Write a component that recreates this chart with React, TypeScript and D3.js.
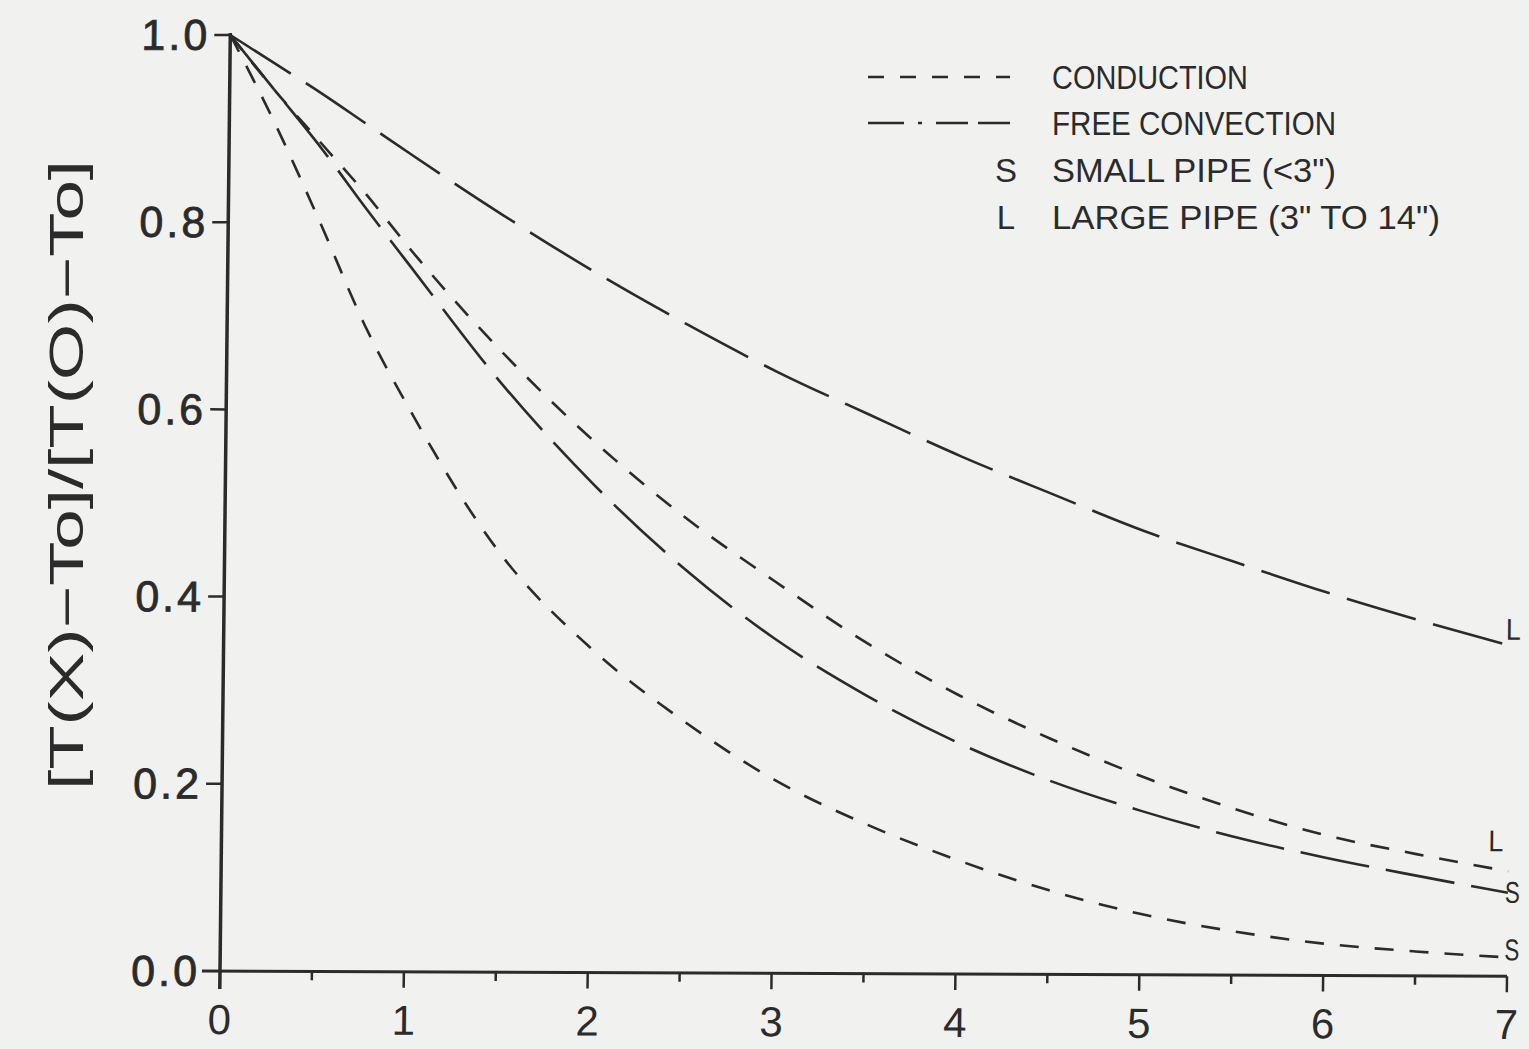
import { useEffect, useRef } from 'react';
import * as d3 from 'd3';

// distance along the pipe (x) and normalized temperature for each case
const xs = [0, 0.25, 0.5, 0.75, 1, 1.5, 2, 2.5, 3, 3.5, 4, 4.5, 5, 5.5, 6, 6.5, 7];
const convectionLarge = [1.0, 0.969, 0.938, 0.905, 0.872, 0.808, 0.748, 0.693, 0.642, 0.597, 0.553, 0.513, 0.474, 0.441, 0.409, 0.38, 0.353];
const conductionLarge = [1.0, 0.94, 0.885, 0.83, 0.77, 0.662, 0.568, 0.487, 0.418, 0.353, 0.298, 0.252, 0.212, 0.178, 0.15, 0.13, 0.112];
const convectionSmall = [1.0, 0.94, 0.88, 0.815, 0.752, 0.628, 0.522, 0.432, 0.357, 0.297, 0.247, 0.207, 0.175, 0.148, 0.126, 0.107, 0.089];
const conductionSmall = [1.0, 0.905, 0.8, 0.69, 0.6, 0.447, 0.346, 0.27, 0.207, 0.16, 0.122, 0.09, 0.065, 0.047, 0.034, 0.026, 0.02];

const xTicks = [0, 1, 2, 3, 4, 5, 6, 7];
const xMinorTicks = [0.5, 1.5, 2.5, 3.5, 4.5, 5.5, 6.5];
const yTicks = [0, 0.2, 0.4, 0.6, 0.8, 1.0];

const legendItems = ['CONDUCTION', 'FREE CONVECTION', 'SMALL PIPE (<3")', 'LARGE PIPE (3" TO 14")'];
const legendKeys = ['', '', 'S', 'L'];
const yTitle = '[T(X)\u2212To]/[T(O)\u2212To]';

const INK = '#2b2b2b';
const NARROW = 'Liberation Sans Narrow, Liberation Sans, Arial, sans-serif';

const App = () => {
    const ref = useRef<SVGSVGElement | null>(null);

    useEffect(() => {
        document.body.style.margin = '0';
        const width = 1529;
        const height = 1049;
        const svg = d3.select(ref.current);
        svg.selectAll('*').remove();

        svg.append('rect').attr('width', width).attr('height', height).attr('fill', '#f1f1f0');

        const x = d3.scaleLinear().domain([0, 7]).range([220, 1507]);
        const y = d3.scaleLinear().domain([0, 1]).range([971, 35]);

        // the scanned plot is a little skewed, so tilt the plot group slightly
        const ox = x(0), oy = y(0);
        const g = svg.append('g')
            .attr('transform', `translate(${ox},${oy}) matrix(1,0.004,-0.011,1,0,0) translate(${-ox},${-oy})`);

        // axes
        g.append('line').attr('x1', x(0)).attr('x2', x(0)).attr('y1', y(1) - 2).attr('y2', y(0) + 18)
            .attr('stroke', INK).attr('stroke-width', 3.5);
        g.append('line').attr('x1', x(0) - 18).attr('x2', x(7)).attr('y1', y(0)).attr('y2', y(0))
            .attr('stroke', INK).attr('stroke-width', 3);

        g.selectAll('.ytick').data(yTicks.filter(d => d > 0)).enter().append('line')
            .attr('x1', x(0) - 16).attr('x2', x(0))
            .attr('y1', d => y(d)).attr('y2', d => y(d))
            .attr('stroke', INK).attr('stroke-width', 2.5);

        g.selectAll('.ylab').data(yTicks).enter().append('text')
            .attr('x', x(0) - 20).attr('y', d => y(d) + 15)
            .attr('text-anchor', 'end')
            .attr('font-family', 'Liberation Sans, Arial, sans-serif')
            .attr('font-size', 43).attr('letter-spacing', 3)
            .attr('stroke', INK).attr('stroke-width', 0.8)
            .attr('fill', INK)
            .text(d => d.toFixed(1));

        g.selectAll('.xtick').data(xTicks.filter(d => d > 0)).enter().append('line')
            .attr('x1', d => x(d)).attr('x2', d => x(d))
            .attr('y1', y(0)).attr('y2', y(0) + 16)
            .attr('stroke', INK).attr('stroke-width', 2.5);
        g.selectAll('.xminor').data(xMinorTicks).enter().append('line')
            .attr('x1', d => x(d)).attr('x2', d => x(d))
            .attr('y1', y(0)).attr('y2', y(0) + 9)
            .attr('stroke', INK).attr('stroke-width', 2.5);

        g.selectAll('.xlab').data(xTicks).enter().append('text')
            .attr('x', d => x(d)).attr('y', 1034)
            .attr('text-anchor', 'middle')
            .attr('font-family', NARROW)
            .attr('font-size', 42)
            .attr('fill', INK)
            .text(d => String(d));

        // y axis title
        svg.append('text')
            .attr('transform', 'translate(83,475) rotate(-90)')
            .attr('text-anchor', 'middle')
            .attr('font-family', 'Liberation Sans, Arial, sans-serif')
            .attr('font-size', 48)
            .attr('textLength', 630).attr('lengthAdjust', 'spacingAndGlyphs')
            .attr('fill', INK)
            .text(yTitle);

        // curves
        const series = [
            { values: convectionLarge, dash: '72 18', label: 'L', dx: -5, dy: -14 },
            { values: conductionLarge, dash: '19 16', label: 'L', dx: -20, dy: -28 },
            { values: convectionSmall, dash: '70 17', label: 'S', dx: -3, dy: 2 },
            { values: conductionSmall, dash: '19 16', label: 'S', dx: -3, dy: -5 },
        ];

        const line = d3.line<number>()
            .x((_, i) => x(xs[i]))
            .y(d => y(d))
            .curve(d3.curveMonotoneX);

        series.forEach(s => {
            g.append('path')
                .attr('d', line(s.values))
                .attr('fill', 'none')
                .attr('stroke', INK)
                .attr('stroke-width', 2.6)
                .attr('stroke-dasharray', s.dash);
            g.append('text')
                .attr('x', x(7) + s.dx)
                .attr('y', y(s.values[s.values.length - 1]) + s.dy)
                .attr('dominant-baseline', 'middle')
                .attr('font-family', NARROW)
                .attr('font-size', 30)
                .attr('textLength', 15).attr('lengthAdjust', 'spacingAndGlyphs')
                .attr('fill', INK)
                .text(s.label);
        });

        // legend
        const legend = svg.append('g');
        const rowY = [77, 123, 170, 217];
        const textWidths = [196, 284, 284, 388];
        legend.append('line').attr('x1', 868).attr('x2', 1010).attr('y1', rowY[0]).attr('y2', rowY[0])
            .attr('stroke', INK).attr('stroke-width', 2.6).attr('stroke-dasharray', '16 16');
        legend.append('line').attr('x1', 868).attr('x2', 1010).attr('y1', rowY[1]).attr('y2', rowY[1])
            .attr('stroke', INK).attr('stroke-width', 2.6).attr('stroke-dasharray', '36 14 4 14 32 10 32');

        legendItems.forEach((t, i) => {
            legend.append('text')
                .attr('x', 1052).attr('y', rowY[i] + 12)
                .attr('font-family', NARROW)
                .attr('font-size', 33)
                .attr('textLength', textWidths[i]).attr('lengthAdjust', 'spacingAndGlyphs')
                .attr('fill', INK)
                .text(t);
            if (legendKeys[i]) {
                legend.append('text')
                    .attr('x', 1006).attr('y', rowY[i] + 12)
                    .attr('text-anchor', 'middle')
                    .attr('font-family', NARROW)
                    .attr('font-size', 33)
                    .attr('fill', INK)
                    .text(legendKeys[i]);
            }
        });
    }, []);

    return <svg ref={ref} width={1529} height={1049} style={{ display: 'block' }} />;
};

export default App;
